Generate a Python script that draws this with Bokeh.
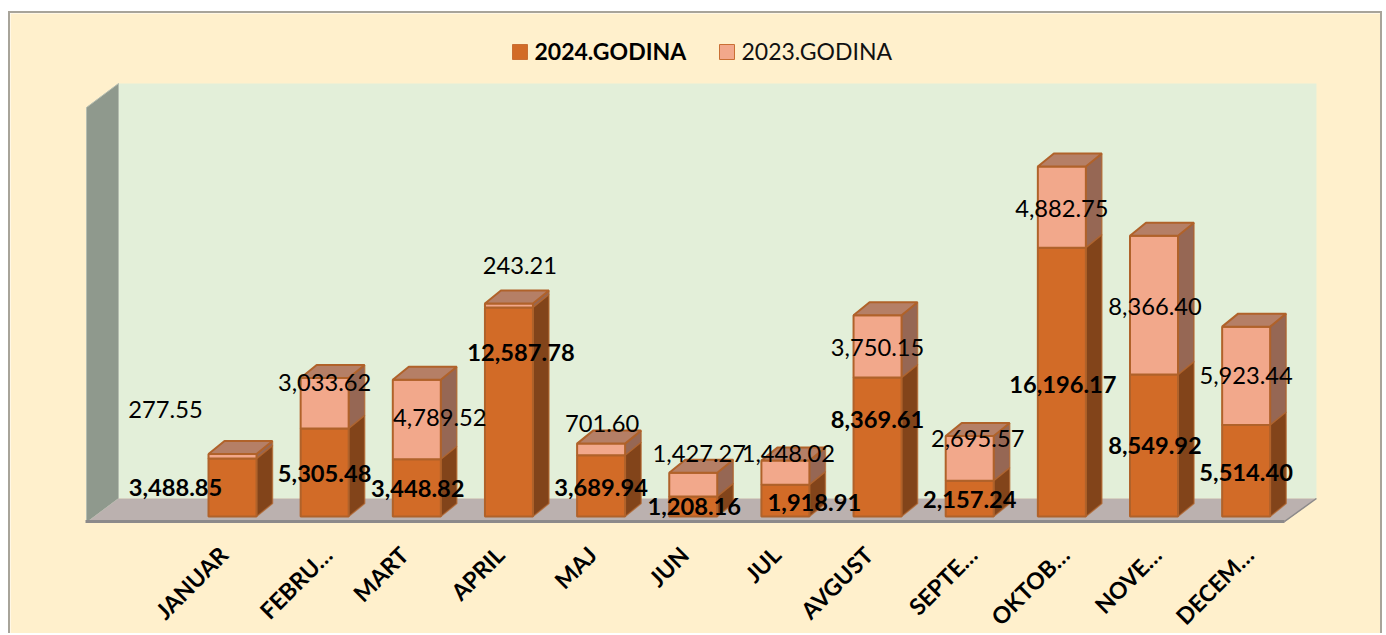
from bokeh.plotting import figure
from bokeh.embed import file_html
from bokeh.resources import INLINE
from bokeh.models import Range1d, LinearAxis, FixedTicker, ColumnDataSource
from bokeh.core.properties import value

# ---- data ----
months = ["JANUAR", "FEBRU…", "MART", "APRIL", "MAJ", "JUN", "JUL", "AVGUST",
          "SEPTE…", "OKTOB…", "NOVE…", "DECEM…"]
y2024 = [3488.85, 5305.48, 3448.82, 12587.78, 3689.94, 1208.16, 1918.91, 8369.61,
         2157.24, 16196.17, 8549.92, 5514.40]
y2023 = [277.55, 3033.62, 4789.52, 243.21, 701.60, 1427.27, 1448.02, 3750.15,
         2695.57, 4882.75, 8366.40, 5923.44]
series_names = ["2024.GODINA", "2023.GODINA"]
axis_max = 25000

# ---- hand placed label shifts, px from the centre of each bar segment ----
shift24_x = [-57, 0, 1, 12, 0, 1, 29, 0, 0, 1, 1, 0]
shift24_y = [0, 1, 1, -60, 2, 0, 2, -28, 1, 2, 0, 2]
shift23_x = [-67, 0, 23, 11, 1, 6, 3, 0, 8, 0, 1, 0]
shift23_y = [-47, -21, -2, -40, -26, -31, -19, 1, -20, 1, 1, 0]
# px shift of each category label from its bar centre
tick_shift = [-9, 3, -13, -9, -9, -9, -9, -9, 3, 3, 3, 3]

# ---- geometry (page pixels) ----
W, H = 1374, 622
PAGE_L, PAGE_T = 10, 13
FRAME_B = 635
SLOT = 92.15
BAR_W = 48
FIRST = 232
BASE = 516
PPU = 0.0166          # px per value unit
DX, DY = 16, 13       # bar depth
WALL_DX, WALL_DY = 32, 24
FLOOR_FRONT_L = 86
AXIS_Y = 524

# ---- colours ----
CREAM = "#FFF0CC"
WALL = "#E3EFD9"
SIDEWALL = "#8F998D"
FLOOR = "#BBB1AF"
FLOOR_EDGE = "#8C8A8A"
LINE = "#B0622A"
DARK, DARK_SIDE = "#D26B27", "#82441A"
LIGHT, LIGHT_SIDE, LIGHT_TOP = "#F2A88B", "#966754", "#B57F66"
LABEL = "#000000"
FONT = "Lato"

x0 = (PAGE_L - FIRST) / SLOT
x1 = (PAGE_L + W - FIRST) / SLOT
y0 = (BASE - FRAME_B) / PPU
y1 = (BASE - PAGE_T) / PPU

p = figure(width=W, height=H, output_backend="svg", toolbar_location=None,
           x_range=Range1d(x0, x1), y_range=Range1d(y0, y1),
           x_axis_location=None, y_axis_location=None,
           min_border_left=0, min_border_right=0, min_border_top=0, min_border_bottom=0,
           background_fill_color=CREAM, border_fill_color=CREAM, outline_line_color=None)
p.grid.visible = False
p.styles = {"border-left": "2px solid #A8A49A", "border-right": "2px solid #A8A49A",
            "border-top": "2px solid #A8A49A", "margin-top": "11px", "margin-left": "8px"}


def X(px):
    return (px - FIRST) / SLOT


def Y(py):
    return (BASE - py) / PPU


ddx, ddy = DX / SLOT, DY / PPU
half = BAR_W / 2 / SLOT

# walls and floor
wall_l = FLOOR_FRONT_L + WALL_DX
wall_r = wall_l + 13 * SLOT
wall_base = Y(522 - WALL_DY)
wall_top = wall_base + axis_max
front_y = Y(522)
p.quad(left=[X(wall_l)], right=[X(wall_r)], bottom=[wall_base], top=[wall_top],
       fill_color=WALL, line_color=None)
p.patch([X(FLOOR_FRONT_L), X(wall_l), X(wall_l), X(FLOOR_FRONT_L)],
        [front_y, wall_base, wall_top, wall_top - WALL_DY / PPU],
        fill_color=SIDEWALL, line_color="#B5BDB0", line_width=1)
p.patch([X(FLOOR_FRONT_L), X(wall_l), X(wall_r), X(wall_r - WALL_DX)],
        [front_y, wall_base, wall_base, front_y],
        fill_color=FLOOR, line_color=None)
p.line([X(FLOOR_FRONT_L - 1), X(wall_r - WALL_DX)], [Y(521), Y(521)], line_color=FLOOR_EDGE, line_width=3)
p.line([X(wall_r - WALL_DX), X(wall_r)], [Y(521), wall_base], line_color=FLOOR_EDGE, line_width=1.5)


def seg(i, lo, hi, face, side, top=None):
    c = i
    p.patch([c + half, c + half + ddx, c + half + ddx, c + half],
            [lo, lo + ddy, hi + ddy, hi], fill_color=side, line_color=LINE, line_width=1.5, line_alpha=0.7)
    p.quad(left=[c - half], right=[c + half], bottom=[lo], top=[hi],
           fill_color=face, line_color=LINE, line_width=2)
    if top:
        p.patch([c - half, c - half + ddx, c + half + ddx, c + half],
                [hi, hi + ddy, hi + ddy, hi], fill_color=top, line_color=LINE, line_width=2)


for i, (a, b) in enumerate(zip(y2024, y2023)):
    seg(i, 0, a, DARK, DARK_SIDE)
    seg(i, a, a + b, LIGHT, LIGHT_SIDE, LIGHT_TOP)

# data labels
idx = list(range(len(months)))
src24 = ColumnDataSource(dict(x=idx, y=[v / 2 for v in y2024],
                              t=[f"{v:,.2f}" for v in y2024],
                              ox=shift24_x, oy=shift24_y))
src23 = ColumnDataSource(dict(x=idx, y=[a + b / 2 for a, b in zip(y2024, y2023)],
                              t=[f"{v:,.2f}" for v in y2023],
                              ox=shift23_x, oy=shift23_y))
p.text("x", "y", text="t", x_offset="ox", y_offset="oy", source=src23, text_align="center",
       text_baseline="middle", text_font=value(FONT), text_font_size="23.7px", text_color=LABEL)
p.text("x", "y", text="t", x_offset="ox", y_offset="oy", source=src24, text_align="center",
       text_baseline="middle", text_font=value(FONT), text_font_style="bold",
       text_font_size="23.7px", text_color=LABEL)

# legend
p.quad(left=[X(512)], right=[X(527)], bottom=[Y(59)], top=[Y(44)], fill_color=DARK,
       line_color="#C96F34", line_width=1)
p.quad(left=[X(719)], right=[X(734)], bottom=[Y(59)], top=[Y(44)], fill_color=LIGHT,
       line_color="#C96F34", line_width=1)
p.text([X(534)], [Y(50)], text=[series_names[0]], text_baseline="middle", text_font=value(FONT),
       text_font_style="bold", text_font_size="23px", text_color=LABEL)
p.text([X(741)], [Y(50)], text=[series_names[1]], text_baseline="middle", text_font=value(FONT),
       text_font_size="23px", text_color="#111111")

# category axis
ticks = [round(i + s / SLOT, 3) for i, s in zip(idx, tick_shift)]
ax = LinearAxis(ticker=FixedTicker(ticks=ticks),
                major_label_overrides={t: m for t, m in zip(ticks, months)},
                major_label_orientation=0.785, axis_line_color=None,
                major_tick_line_color=None, minor_tick_line_color=None,
                major_label_standoff=20, major_label_text_font=FONT,
                major_label_text_font_style="bold", major_label_text_font_size="23px",
                major_label_text_color="#000000", fixed_location=Y(AXIS_Y))
p.add_layout(ax, "below")

open("out.html", "w").write(file_html(p, INLINE))
